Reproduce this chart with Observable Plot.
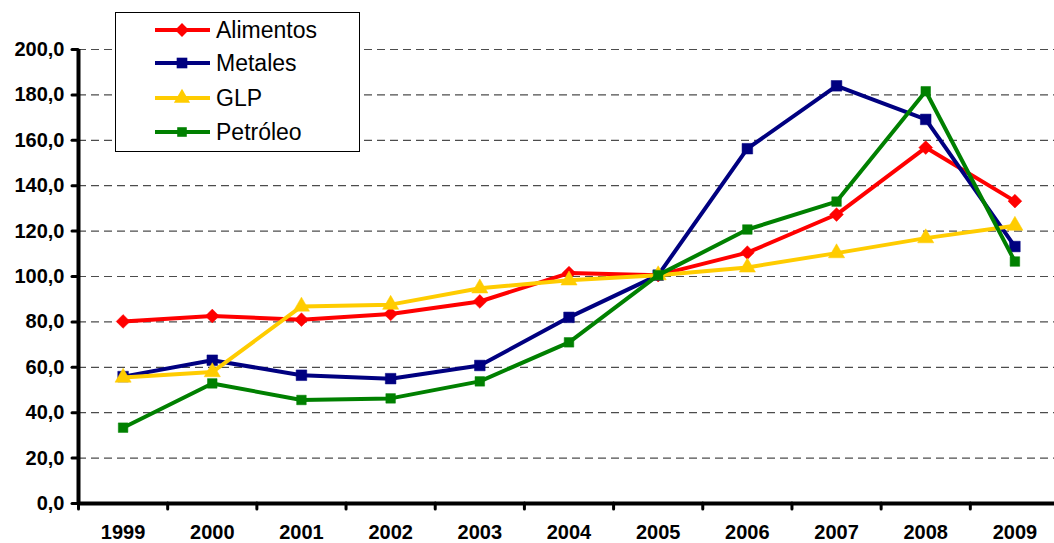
<!DOCTYPE html>
<html><head><meta charset="utf-8">
<script src="https://cdn.jsdelivr.net/npm/d3@7"></script>
<script src="https://cdn.jsdelivr.net/npm/@observablehq/plot@0.6"></script>
<style>
body{margin:0;background:#fff;}
#wrap{position:relative;width:1054px;height:543px;overflow:hidden;font-family:"Liberation Sans",Arial,sans-serif;background:#fff;}
#legend{position:absolute;left:115px;top:12px;}
</style>
</head><body><div id="wrap"></div>
<script>
const years = [1999,2000,2001,2002,2003,2004,2005,2006,2007,2008,2009];
const alimentos = [80.2,82.6,81.0,83.5,89.0,101.5,100.6,110.5,127.3,156.8,133.2];
const metales   = [55.9,63.1,56.5,55.0,60.8,82.0,100.6,156.3,184.0,169.2,113.2];
const glp       = [55.5,57.9,86.8,87.6,94.8,98.3,100.6,104.0,110.3,116.9,122.4];
const petroleo  = [33.4,52.9,45.6,46.3,53.8,71.0,100.6,120.7,133.0,181.6,106.6];
const seriesNames = ["Alimentos","Metales","GLP","Petróleo"];
const seriesValues = [alimentos, metales, glp, petroleo];
const seriesColors = ["#FF0000","#000080","#FFCC00","#008000"];
const seriesSymbols = ["diamond2","square","triangle","square"];
const seriesR = [6.2, 6.0, 6.0, 5.4];
const yTicks = [0,20,40,60,80,100,120,140,160,180,200];

const boundaries = d3.range(years[0]-0.5, years[years.length-1]+1, 1);

const marks = [];
marks.push(Plot.ruleY(yTicks.filter(d => d > 0), {stroke:"#000", strokeOpacity:0.7, strokeWidth:1.2, strokeDasharray:"8,5"}));
seriesNames.forEach((name, k) => {
  const rows = seriesValues[k].map((v, i) => ({year: years[i], value: v}));
  marks.push(Plot.line(rows, {x:"year", y:"value", stroke: seriesColors[k], strokeWidth: 4}));
  marks.push(Plot.dot(rows, {x:"year", y:"value", symbol: seriesSymbols[k], fill: seriesColors[k], r: seriesR[k], stroke: seriesColors[k], strokeWidth: 0.5}));
});
marks.push(Plot.ruleX([boundaries[0]], {y1: 0, y2: 200, stroke:"#000", strokeWidth:4}));
marks.push(Plot.ruleY([0], {stroke:"#000", strokeWidth:4}));
marks.push(Plot.axisY(yTicks, {label: null, tickSize:6, strokeWidth:3, strokeLinecap:"round", tickPadding:8,
  tickFormat: d => d.toFixed(1).replace(".", ","), fontWeight:"bold", fontSize:20}));
marks.push(Plot.axisX(boundaries, {label: null, tickSize:6, strokeWidth:3, strokeLinecap:"round", tickFormat: () => ""}));
marks.push(Plot.axisX(years, {label: null, tickSize:0, tickPadding:21, tickFormat: d => String(d), fontWeight:"bold", fontSize:20}));

const chart = Plot.plot({
  width: 1054, height: 543,
  marginTop: 49, marginBottom: 40, marginLeft: 78, marginRight: 0,
  x: {type:"linear", domain:[boundaries[0], boundaries[boundaries.length-1]], range:[78, 1059], axis: null, label: null},
  y: {domain:[0,200], axis: null, label: null},
  style: {fontFamily:'"Liberation Sans", Arial, sans-serif', color:"#000", background:"#fff", overflow:"visible"},
  marks
});
const wrap = document.getElementById("wrap");
wrap.appendChild(chart);

// Legend
const lw = 245, lh = 140;
const leg = d3.select(wrap).append("svg").attr("id","legend").attr("width", lw).attr("height", lh);
leg.append("rect").attr("x",0.5).attr("y",0.5).attr("width",lw-1).attr("height",lh-1).attr("fill","#fff").attr("stroke","#000").attr("stroke-width",1);
const rowY = [18, 51, 86, 120];
seriesNames.forEach((name, k) => {
  const g = leg.append("g").attr("transform", `translate(0,${rowY[k]})`);
  g.append("line").attr("x1",40).attr("x2",95).attr("y1",0).attr("y2",0).attr("stroke",seriesColors[k]).attr("stroke-width",4);
  const symMap = {diamond2: d3.symbolDiamond2, square: d3.symbolSquare, triangle: d3.symbolTriangle};
  g.append("path").attr("transform","translate(67,0)").attr("d", d3.symbol(symMap[seriesSymbols[k]], Math.PI*seriesR[k]*seriesR[k])()).attr("fill",seriesColors[k]);
  g.append("text").attr("x",101).attr("y",0).attr("dy","0.36em").attr("font-size",23).attr("font-family",'"Liberation Sans", Arial, sans-serif').text(name);
});
</script>
</body></html>
